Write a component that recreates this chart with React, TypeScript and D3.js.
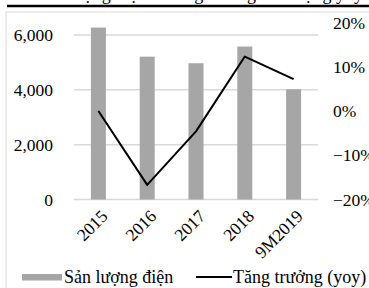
import React from 'react';
import * as d3 from 'd3';

const categories = ['2015', '2016', '2017', '2018', '9M2019'];
const output = [6270, 5210, 4970, 5580, 4020];
const growth = [0.0, -0.167, -0.046, 0.123, 0.072];
const leftTicks = [0, 2000, 4000, 6000];
const rightTicks = [-0.2, -0.1, 0, 0.1, 0.2];

const W = 369;
const H = 288;
const textStyle = { fontFamily: "'Liberation Serif', 'Times New Roman', serif" };
const FS = 17.5;

export default function App() {
  const x = d3.scaleBand<string>().domain(categories).range([74, 318]).padding(0);
  const yL = d3.scaleLinear().domain([0, 6000]).range([199.5, 35]);
  const yR = d3.scaleLinear().domain([-0.2, 0.2]).range([199.5, 22.5]);
  const cx = (c: string) => (x(c) as number) + x.bandwidth() / 2;
  const barW = 15;

  const line = d3.line<number>()
    .x((_, i) => cx(categories[i]))
    .y(d => yR(d));

  const fmtL = d3.format(',');
  const fmtR = d3.format('.0%');

  return (
    <svg width={W} height={H} style={{ position: 'absolute', left: 0, top: 0, background: '#fff' }}>
      {/* title cut off at the top, as in the source */}
      <text x={200} y={0} textAnchor="middle" fontSize={18} fill="#000" style={textStyle}>
        Sản lượng điện và tăng trưởng sản lượng yoy
      </text>
      <line x1={7} x2={W} y1={6} y2={6} stroke="#000" strokeWidth={2.5} />
      <rect x={6} y={12} width={W} height={H} fill="none" stroke="#d9d9d9" strokeWidth={1} />

      {leftTicks.map(t => (
        <g key={t}>
          <line x1={74} x2={318} y1={yL(t)} y2={yL(t)} stroke="#d9d9d9" strokeWidth={1.5} />
          <text x={53} y={yL(t)} dy="0.35em" textAnchor="end" fontSize={FS} fill="#000" style={textStyle}>{fmtL(t)}</text>
        </g>
      ))}

      {rightTicks.map(t => (
        <text key={t} x={333} y={yR(t)} dy="0.35em" textAnchor="start" fontSize={FS} fill="#000" style={textStyle}>{fmtR(t)}</text>
      ))}

      {categories.map((c, i) => (
        <rect key={c} x={cx(c) - barW / 2} y={yL(output[i])} width={barW}
          height={yL(0) - yL(output[i])} fill="#a6a6a6" />
      ))}

      <path d={line(growth) || ''} fill="none" stroke="#000" strokeWidth={2} strokeLinejoin="round" />

      {categories.map(c => (
        <text key={c} transform={`translate(${cx(c) + 6},${213}) rotate(-45)`} textAnchor="end"
          dy="0.35em" fontSize={FS} fill="#000" style={textStyle}>{c}</text>
      ))}

      {/* legend */}
      <rect x={22} y={274} width={40} height={6.5} fill="#a6a6a6" />
      <text x={64} y={283} fontSize={18} fill="#000" style={textStyle}>Sản lượng điện</text>
      <line x1={196} x2={232} y1={277} y2={277} stroke="#000" strokeWidth={2} />
      <text x={233} y={283} fontSize={18} fill="#000" style={textStyle}>Tăng trưởng (yoy)</text>
    </svg>
  );
}
